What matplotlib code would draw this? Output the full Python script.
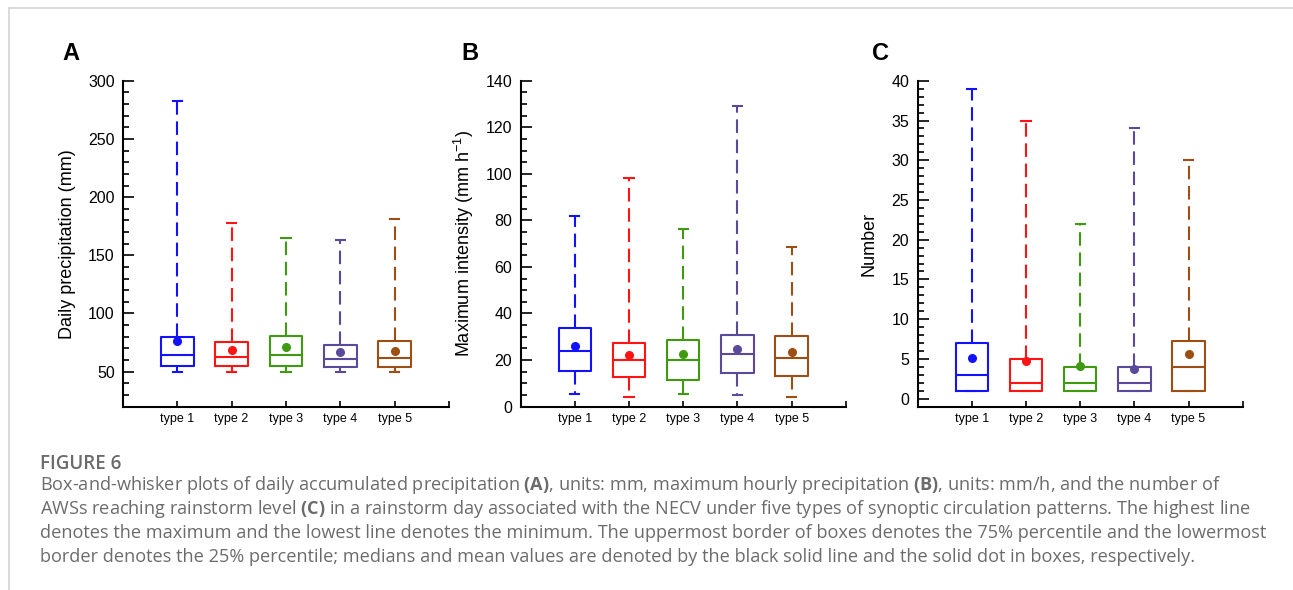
import matplotlib
matplotlib.use("Agg")
import matplotlib.pyplot as plt
from matplotlib.ticker import MultipleLocator
from matplotlib.lines import Line2D

plt.rcParams['font.family'] = ['Liberation Sans', 'DejaVu Sans']
plt.rcParams['mathtext.fontset'] = 'custom'
plt.rcParams['mathtext.rm'] = 'Open Sans'
plt.rcParams['mathtext.bf'] = 'Open Sans:bold'

types = ['type 1', 'type 2', 'type 3', 'type 4', 'type 5']
colors = ['#1212ff', '#ff1414', '#3f9a12', '#5b4a9c', '#9c4e14']

# (A) daily precipitation (mm)
precip_max = [282.5, 178, 165, 163, 181]
precip_q3 = [79.6, 75.6, 80.2, 72.7, 76.7]
precip_med = [64.4, 62.9, 64.7, 60.9, 62.1]
precip_q1 = [54.9, 54.6, 54.6, 53.8, 54.0]
precip_min = [50, 50, 50, 50, 50]
precip_mean = [75.9, 68.4, 71.3, 66.7, 67.8]

# (B) maximum intensity (mm/h)
inten_max = [81.9, 98.3, 76.2, 129.1, 68.4]
inten_q3 = [33.7, 27.3, 28.5, 30.6, 30.3]
inten_med = [23.7, 19.8, 19.8, 22.7, 21.0]
inten_q1 = [15.1, 12.6, 11.6, 14.5, 13.1]
inten_min = [5.2, 4.0, 5.2, 4.9, 4.3]
inten_mean = [26.0, 22.0, 22.7, 24.8, 23.4]

# (C) number of AWSs
num_max = [39, 35, 22, 34, 30]
num_q3 = [7, 5, 4, 4, 7.3]
num_med = [3, 2, 2, 2, 4]
num_q1 = [1, 1, 1, 1, 1]
num_min = [1, 1, 1, 1, 1]
num_mean = [5.15, 4.7, 4.1, 3.75, 5.6]


def make_stats(lo, q1, med, q3, hi, mean):
    return [dict(whislo=a, q1=b, med=c, q3=d, whishi=e, mean=f, fliers=[])
            for a, b, c, d, e, f in zip(lo, q1, med, q3, hi, mean)]


def draw_panel(ax, stats, ylim, major, minor, ylabel):
    res = ax.bxp(stats, positions=[1, 2, 3, 4, 5], widths=0.6, capwidths=0.17,
                 showmeans=True, showfliers=False, manage_ticks=False)
    for i, c in enumerate(colors):
        res['boxes'][i].set(color=c, linewidth=1.5)
        res['medians'][i].set(color=c, linewidth=1.5)
        res['means'][i].set(marker='o', markerfacecolor=c, markeredgecolor=c,
                            markersize=5.5)
        for w in res['whiskers'][2 * i:2 * i + 2]:
            w.set(color=c, linewidth=1.5, linestyle=(0, (6.5, 3.2)))
        for cp in res['caps'][2 * i:2 * i + 2]:
            cp.set(color=c, linewidth=1.5)

    ax.set_xlim(0, 6)
    ax.set_ylim(*ylim)
    ax.set_xticks([1, 2, 3, 4, 5, 6])
    ax.set_xticklabels(types + [''], fontsize=9)
    ax.yaxis.set_major_locator(MultipleLocator(major))
    ax.yaxis.set_minor_locator(MultipleLocator(minor))
    ax.tick_params(axis='y', which='major', direction='in', length=8, width=1.2,
                   labelsize=11.5, pad=6)
    ax.tick_params(axis='y', which='minor', direction='in', length=4, width=1.2)
    ax.tick_params(axis='x', which='major', direction='in', length=4.5, width=1.2,
                   pad=5)
    for s in ['top', 'right']:
        ax.spines[s].set_visible(False)
    for s in ['left', 'bottom']:
        ax.spines[s].set_linewidth(1.5)
    ax.set_ylabel(ylabel, fontsize=13)


fig = plt.figure(figsize=(12.93, 5.9), dpi=100)

axA = fig.add_axes([0.0951, 0.311, 0.2521, 0.552])
axB = fig.add_axes([0.4027, 0.311, 0.2514, 0.552])
axC = fig.add_axes([0.7097, 0.311, 0.2514, 0.552])

draw_panel(axA, make_stats(precip_min, precip_q1, precip_med, precip_q3, precip_max, precip_mean),
           (20, 300), 50, 10, 'Daily precipitation (mm)')
draw_panel(axB, make_stats(inten_min, inten_q1, inten_med, inten_q3, inten_max, inten_mean),
           (0, 140), 20, 5, r'Maximum intensity (mm h$^{\mathregular{-1}}$)')
draw_panel(axC, make_stats(num_min, num_q1, num_med, num_q3, num_max, num_mean),
           (-1, 40), 5, 1, 'Number')

axA.yaxis.set_label_coords(-0.145, 0.5)
axB.yaxis.set_label_coords(-0.138, 0.5)
axC.yaxis.set_label_coords(-0.123, 0.5)

for lab, x in zip(['A', 'B', 'C'], [71, 470, 880]):
    fig.text(x / 1293, 1 - 53 / 590, lab, fontsize=17, fontweight='bold',
             ha='center', va='center')

# page frame lines
fig.add_artist(Line2D([9 / 1293, 1], [1 - 8 / 590, 1 - 8 / 590], color='#d4d4d4', lw=1.2))
fig.add_artist(Line2D([9 / 1293, 9 / 1293], [0, 1 - 8 / 590], color='#d4d4d4', lw=1.2))

# caption
cap_color = '#6b6b6b'
fig.text(40 / 1293, 1 - 468.7 / 590, 'FIGURE 6', fontsize=13.5, family='Open Sans',
         fontweight='semibold', color=cap_color, va='baseline', ha='left')
caption = [
    r'Box-and-whisker plots of daily accumulated precipitation $\mathbf{(A)}$, units: mm, maximum hourly precipitation $\mathbf{(B)}$, units: mm/h, and the number of',
    r'AWSs reaching rainstorm level $\mathbf{(C)}$ in a rainstorm day associated with the NECV under five types of synoptic circulation patterns. The highest line',
    'denotes the maximum and the lowest line denotes the minimum. The uppermost border of boxes denotes the 75% percentile and the lowermost',
    'border denotes the 25% percentile; medians and mean values are denoted by the black solid line and the solid dot in boxes, respectively.',
]
for i, line in enumerate(caption):
    fig.text(40 / 1293, 1 - (489.7 + 24 * i) / 590, line, fontsize=13.1,
             family='Open Sans', color=cap_color, va='baseline', ha='left')

fig.savefig('out.png', dpi=100)
